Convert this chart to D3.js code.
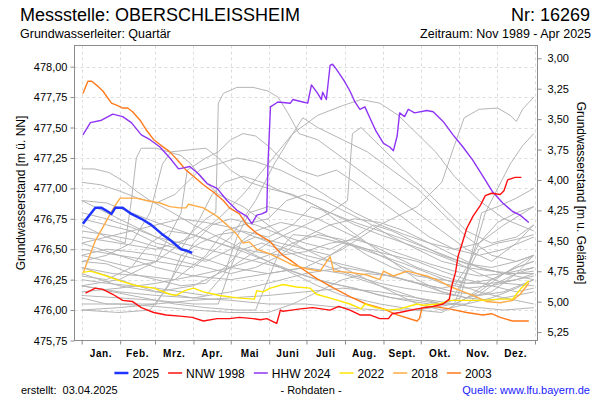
<!DOCTYPE html>
<html><head><meta charset="utf-8">
<script src="https://cdn.jsdelivr.net/npm/d3@7/dist/d3.min.js"></script>
<style>
body{margin:0;background:#fff;}
text{font-family:"Liberation Sans",Arial,sans-serif;}
</style></head>
<body><svg id="c" width="600" height="400"></svg>
<script>
// ---------- DATA ----------
const monthStarts = [0,31,59,90,120,151,181,212,243,273,304,334,365];
const monthLabels = ["Jan.","Feb.","Mrz.","Apr.","Mai","Juni","Juli","Aug.","Sept.","Okt.","Nov.","Dez."];
const leftTicks = [475.75,476.00,476.25,476.50,476.75,477.00,477.25,477.50,477.75,478.00];
const rightTicks = [3.00,3.25,3.50,3.75,4.00,4.25,4.50,4.75,5.00,5.25];
const groundLevel = 481.069;

const s2025 = [[1,476.71],[4,476.75],[11,476.84],[16,476.84],[21,476.81],[24,476.79],[27,476.84],[33,476.84],[40,476.79],[48,476.75],[56,476.70],[64,476.63],[72,476.57],[80,476.50],[84,476.49],[89,476.47]];
const nnw1998 = [[3,476.14],[11,476.18],[17,476.17],[25,476.13],[33,476.08],[41,476.07],[48,476.02],[58,475.98],[68,475.96],[79,475.95],[89,475.94],[98,475.91],[109,475.93],[119,475.93],[127,475.94],[138,475.93],[144,475.92],[149,475.93],[157,475.89],[160,476.00],[162,475.99],[169,476.00],[176,476.01],[186,476.02],[200,476.00],[207,476.03],[216,476.00],[224,475.96],[232,475.96],[240,475.93],[247,475.93],[250,475.97],[256,475.98],[270,476.01],[283,476.03],[291,476.05],[296,476.09],[298,476.20],[301,476.31],[303,476.44],[307,476.57],[310,476.67],[315,476.77],[321,476.86],[325,476.94],[330,476.96],[337,476.95],[340,476.98],[343,477.07],[349,477.09],[354,477.09]];
const hhw2024 = [[1,477.44],[7,477.54],[16,477.56],[25,477.61],[33,477.59],[40,477.54],[48,477.44],[55,477.40],[63,477.34],[71,477.25],[78,477.16],[83,477.17],[87,477.18],[94,477.12],[101,477.04],[109,477.00],[117,476.90],[125,476.82],[133,476.77],[137,476.71],[141,476.78],[145,476.79],[149,476.81],[150,477.20],[152,477.67],[158,477.71],[168,477.70],[170,477.73],[178,477.71],[182,477.70],[185,477.85],[190,477.78],[193,477.73],[194,477.79],[197,477.73],[200,478.01],[202,478.02],[205,477.98],[211,477.89],[216,477.80],[220,477.71],[224,477.65],[228,477.67],[232,477.58],[237,477.47],[243,477.37],[248,477.34],[251,477.31],[254,477.43],[256,477.62],[260,477.59],[263,477.65],[268,477.62],[278,477.64],[283,477.63],[291,477.55],[299,477.44],[307,477.34],[315,477.23],[323,477.10],[331,476.97],[339,476.88],[347,476.81],[353,476.78],[360,476.72]];
const s2022 = [[1,476.31],[7,476.32],[17,476.29],[31,476.24],[44,476.20],[58,476.18],[71,476.13],[76,476.12],[83,476.16],[90,476.18],[98,476.15],[111,476.12],[125,476.10],[139,476.09],[141,476.16],[146,476.15],[152,476.18],[162,476.21],[173,476.19],[184,476.18],[189,476.13],[203,476.09],[216,476.05],[225,476.01],[228,476.05],[237,476.02],[247,476.00],[256,476.01],[270,476.05],[275,476.04],[288,476.05],[296,476.08],[310,476.08],[323,476.08],[337,476.09],[347,476.09],[350,476.13],[354,476.18],[360,476.24]];
const s2018 = [[1,476.30],[5,476.41],[11,476.57],[17,476.68],[23,476.79],[27,476.86],[31,476.92],[44,476.92],[52,476.90],[63,476.88],[71,476.85],[79,476.84],[84,476.84],[86,476.87],[98,476.84],[109,476.77],[117,476.70],[125,476.62],[130,476.55],[135,476.56],[141,476.50],[152,476.46],[162,476.41],[170,476.37],[181,476.34],[192,476.32],[200,476.44],[203,476.32],[216,476.31],[229,476.29],[240,476.25],[243,476.32],[251,476.28],[262,476.32],[270,476.30],[278,476.28],[288,476.24],[295,476.20],[305,476.16],[315,476.12],[326,476.07],[337,476.06],[347,476.08],[353,476.13],[360,476.22]];
const s2003 = [[1,477.78],[5,477.88],[8,477.88],[13,477.84],[17,477.80],[24,477.70],[29,477.68],[33,477.66],[37,477.66],[41,477.63],[47,477.56],[52,477.48],[58,477.40],[63,477.36],[71,477.30],[79,477.21],[84,477.15],[90,477.10],[98,477.03],[106,476.97],[114,476.90],[119,476.84],[127,476.79],[133,476.70],[141,476.63],[152,476.56],[158,476.49],[162,476.45],[168,476.41],[176,476.35],[189,476.26],[203,476.18],[216,476.11],[229,476.05],[243,476.01],[254,475.96],[270,475.91],[272,475.93],[274,476.02],[283,476.03],[296,476.01],[310,475.98],[323,475.96],[330,475.97],[337,475.94],[347,475.91],[360,475.91]];

const grayYears = [
[[0,476.45],[20,476.40],[40,476.35],[60,476.40],[80,476.55],[100,476.75],[108,476.80],[110,477.70],[114,477.78],[125,477.83],[138,477.83],[150,477.80],[158,477.75],[166,477.62],[175,477.45],[190,477.40],[210,477.25],[230,477.10],[250,476.95],[270,476.80],[290,476.65],[310,476.50],[330,476.40],[350,476.55],[364,476.70]],
[[0,476.60],[30,476.55],[60,476.50],[90,476.60],[110,476.75],[130,476.95],[150,477.20],[170,477.45],[190,477.60],[210,477.68],[225,477.73],[240,477.70],[255,477.60],[270,477.45],[285,477.30],[300,477.10],[320,476.90],[340,476.75],[364,476.65]],
[[0,476.90],[30,476.75],[60,476.60],[90,476.45],[120,476.35],[150,476.30],[180,476.35],[210,476.50],[240,476.70],[270,476.85],[290,477.05],[300,477.35],[308,477.58],[320,477.65],[335,477.66],[345,477.60],[350,477.55],[355,477.65],[364,477.75]],
[[0,477.16],[10,477.16],[22,477.13],[35,477.05],[45,476.97],[55,476.90],[70,476.82],[90,476.70],[110,476.60],[130,476.50],[150,476.40],[170,476.30],[190,476.20],[210,476.12],[240,476.05],[270,476.00],[290,475.98],[310,476.10],[330,476.25],[350,476.35],[364,476.40]],
[[0,477.05],[15,477.03],[30,476.98],[45,476.92],[60,476.88],[75,476.95],[85,477.05],[95,477.15],[110,477.20],[125,477.25],[140,477.22],[160,477.15],[180,477.05],[200,476.92],[220,476.80],[240,476.70],[260,476.62],[280,476.55],[300,476.50],[320,476.55],[340,476.70],[364,476.85]],
[[0,476.70],[20,476.60],[35,476.55],[40,476.90],[44,477.25],[48,477.33],[60,477.33],[70,477.30],[80,477.27],[88,477.20],[95,477.10],[110,476.95],[130,476.85],[150,476.70],[170,476.55],[190,476.45],[210,476.35],[230,476.25],[250,476.15],[270,476.05],[290,476.00],[310,476.05],[330,476.20],[350,476.30],[364,476.35]],
[[0,476.40],[20,476.45],[40,476.55],[55,476.80],[65,477.20],[72,477.30],[90,477.32],[100,477.33],[110,477.25],[120,477.15],[135,477.05],[150,477.00],[170,476.95],[190,476.85],[210,476.70],[230,476.55],[250,476.40],[270,476.25],[290,476.15],[310,476.10],[330,476.15],[350,476.30],[364,476.45]],
[[0,476.20],[30,476.25],[60,476.40],[80,476.80],[85,477.15],[100,477.25],[110,477.30],[120,477.40],[130,477.45],[140,477.43],[150,477.35],[160,477.25],[175,477.15],[190,477.10],[205,477.15],[220,477.05],[240,476.90],[260,476.75],[280,476.60],[300,476.50],[320,476.45],[340,476.50],[364,476.60]],
[[0,476.50],[30,476.45],[60,476.40],[90,476.35],[120,476.60],[140,476.90],[155,477.20],[170,477.45],[178,477.58],[190,477.50],[210,477.40],[230,477.30],[250,477.15],[270,477.00],[290,476.80],[310,476.60],[330,476.45],[350,476.40],[364,476.45]],
[[0,476.30],[30,476.20],[60,476.15],[90,476.20],[120,476.35],[150,476.55],[180,476.70],[200,476.80],[214,476.90],[218,477.45],[225,477.50],[240,477.35],[255,477.20],[270,477.05],[290,476.85],[310,476.65],[330,476.55],[350,476.60],[364,476.70]],
[[0,476.35],[30,476.25],[60,476.15],[90,476.10],[120,476.08],[150,476.05],[180,476.05],[210,476.02],[240,476.00],[270,476.00],[300,476.05],[315,476.45],[325,476.80],[335,477.00],[345,477.20],[355,477.35],[364,477.45]],
[[0,476.55],[30,476.45],[60,476.35],[90,476.28],[120,476.25],[150,476.30],[180,476.35],[210,476.30],[240,476.20],[270,476.10],[290,476.05],[305,476.10],[315,476.50],[322,476.80],[335,476.85],[350,476.92],[364,477.00]],
[[0,476.10],[20,476.05],[40,476.05],[60,476.05],[75,476.30],[90,476.55],[105,476.70],[120,476.75],[140,476.70],[160,476.62],[180,476.55],[200,476.50],[220,476.60],[235,476.70],[250,476.65],[270,476.55],[290,476.45],[310,476.38],[330,476.35],[350,476.40],[364,476.45]],
[[0,476.00],[30,475.98],[55,476.00],[70,476.20],[80,476.45],[95,476.55],[110,476.62],[130,476.65],[150,476.60],[170,476.70],[185,476.85],[200,476.80],[220,476.70],[240,476.62],[260,476.55],[280,476.48],[300,476.40],[320,476.30],[340,476.22],[364,476.20]],
[[0,476.25],[20,476.22],[40,476.20],[60,476.18],[80,476.15],[100,476.12],[115,476.30],[125,476.60],[135,476.80],[150,476.85],[170,476.80],[190,476.75],[210,476.65],[230,476.55],[250,476.45],[270,476.35],[290,476.28],[310,476.22],[330,476.25],[350,476.35],[364,476.40]],
[[0,476.20],[25,476.15],[50,476.10],[75,476.05],[100,476.02],[125,476.00],[140,476.00],[150,476.25],[160,476.50],[170,476.62],[190,476.60],[210,476.55],[230,476.50],[250,476.45],[270,476.40],[290,476.32],[310,476.25],[330,476.20],[350,476.15],[364,476.18]],
[[0,476.45],[20,476.50],[40,476.48],[60,476.45],[80,476.40],[100,476.35],[120,476.30],[140,476.35],[160,476.45],[180,476.60],[200,476.70],[220,476.75],[240,476.72],[260,476.65],[280,476.55],[300,476.45],[320,476.35],[340,476.30],[364,476.30]],
[[0,476.65],[20,476.62],[40,476.58],[60,476.52],[80,476.45],[100,476.40],[120,476.50],[140,476.65],[160,476.72],[180,476.68],[200,476.60],[220,476.52],[240,476.45],[260,476.38],[280,476.30],[300,476.22],[320,476.15],[340,476.10],[364,476.05]],
[[0,476.80],[20,476.75],[40,476.68],[60,476.60],[80,476.55],[100,476.50],[120,476.45],[140,476.40],[160,476.35],[180,476.28],[200,476.22],[220,476.18],[240,476.12],[260,476.08],[280,476.05],[300,476.05],[320,476.15],[340,476.30],[364,476.45]],
[[0,476.12],[30,476.10],[60,476.08],[90,476.05],[110,476.05],[120,476.35],[128,476.55],[140,476.60],[160,476.55],[180,476.50],[200,476.45],[215,476.55],[230,476.50],[250,476.40],[270,476.30],[290,476.22],[310,476.18],[330,476.20],[350,476.25],[364,476.28]],
[[0,476.35],[25,476.30],[50,476.28],[75,476.25],[100,476.45],[115,476.65],[130,476.70],[150,476.75],[165,476.90],[180,476.95],[195,476.90],[210,476.82],[230,476.72],[250,476.60],[270,476.50],[290,476.40],[310,476.35],[330,476.32],[350,476.30],[364,476.32]],
[[0,476.55],[20,476.60],[40,476.65],[60,476.70],[80,476.75],[100,476.72],[120,476.68],[140,476.60],[160,476.52],[180,476.45],[200,476.40],[220,476.35],[240,476.30],[260,476.25],[280,476.20],[300,476.15],[320,476.12],[340,476.15],[364,476.25]],
[[0,476.05],[30,476.05],[60,476.03],[90,476.00],[120,475.98],[150,475.98],[170,476.05],[190,476.15],[210,476.25],[230,476.30],[250,476.28],[270,476.22],[290,476.15],[310,476.10],[330,476.08],[350,476.12],[364,476.15]],
[[0,476.15],[30,476.18],[60,476.22],[90,476.28],[120,476.35],[150,476.45],[170,476.55],[190,476.62],[210,476.58],[230,476.45],[250,476.35],[270,476.28],[290,476.25],[310,476.22],[330,476.22],[350,476.25],[364,476.30]],
[[0,476.40],[20,476.38],[40,476.30],[60,476.25],[80,476.20],[100,476.22],[115,476.35],[130,476.50],[145,476.55],[160,476.50],[180,476.42],[200,476.35],[220,476.28],[240,476.22],[260,476.18],[280,476.15],[300,476.12],[310,476.30],[320,476.50],[335,476.55],[350,476.58],[364,476.62]],
[[0,476.75],[20,476.70],[40,476.65],[60,476.55],[80,476.50],[95,476.75],[105,476.95],[115,477.05],[130,477.10],[145,477.05],[160,476.98],[180,476.90],[200,476.80],[220,476.72],[240,476.65],[260,476.58],[280,476.50],[300,476.42],[320,476.35],[340,476.30],[364,476.25]],
[[0,476.90],[20,476.88],[40,476.80],[60,476.72],[80,476.65],[100,476.58],[120,476.52],[140,476.48],[160,476.45],[180,476.48],[200,476.55],[220,476.58],[240,476.52],[260,476.45],[280,476.38],[300,476.32],[320,476.28],[340,476.30],[364,476.35]],
[[0,476.20],[30,476.15],[60,476.12],[90,476.10],[120,476.15],[150,476.22],[180,476.30],[210,476.35],[240,476.30],[270,476.22],[290,476.18],[300,476.20],[310,476.35],[320,476.55],[335,476.72],[350,476.80],[364,476.85]],
[[0,476.00],[30,476.02],[60,476.05],[90,476.08],[120,476.10],[150,476.12],[180,476.15],[210,476.18],[240,476.15],[270,476.10],[300,476.05],[320,476.02],[340,476.00],[364,476.02]],
[[0,476.28],[20,476.25],[40,476.35],[55,476.55],[70,476.65],[90,476.62],[110,476.55],[130,476.48],[150,476.40],[170,476.32],[190,476.25],[210,476.20],[230,476.15],[250,476.10],[270,476.08],[290,476.05],[310,476.05],[330,476.10],[350,476.18],[364,476.25]]
];

const seriesNames = ["2025","NNW 1998","HHW 2024","2022","2018","2003"];
const seriesColors = ["#1f35ff","#ff0f0f","#8f34f5","#ffe600","#ffab45","#ff7a1a"];

// ---------- DRAW ----------
const svg = d3.select("#c");
const L = 74.5, R = 537.5, T = 45.5, B = 340.5;
const x = d3.scaleLinear().domain([0,365]).range([81.7,535]);
const yL = d3.scaleLinear().domain([475.75,478.174]).range([B,T]);
const yR = d3.scaleLinear().domain([groundLevel-478.174, groundLevel-475.75]).range([T,B]);
const fmt = d => d.toFixed(2).replace(".",",");

// grid
const grid = svg.append("g").attr("stroke","#dcdcdc").attr("stroke-dasharray","3,3").attr("stroke-width",1);
grid.selectAll("line.h").data(leftTicks.slice(1)).join("line")
  .attr("x1",L).attr("x2",R).attr("y1",d=>Math.round(yL(d))+0.5).attr("y2",d=>Math.round(yL(d))+0.5);
grid.selectAll("line.v").data(monthStarts).join("line")
  .attr("y1",T).attr("y2",B).attr("x1",d=>Math.round(x(d))+0.5).attr("x2",d=>Math.round(x(d))+0.5);

// lines
const line = d3.line().x(d=>x(d[0])).y(d=>yL(d[1]));
const clip = svg.append("clipPath").attr("id","cp").append("rect").attr("x",L).attr("y",T).attr("width",R-L).attr("height",B-T);
const plot = svg.append("g").attr("clip-path","url(#cp)");
plot.selectAll("path.g").data(grayYears).join("path")
  .attr("fill","none").attr("stroke","#b5b5b5").attr("stroke-width",1).attr("d",line);

const hi = [s2025,nnw1998,hhw2024,s2022,s2018,s2003];
const order = [5,4,3,2,1,0];
order.forEach(i=>{
  plot.append("path").datum(hi[i]).attr("fill","none").attr("stroke",seriesColors[i])
    .attr("stroke-width", i===0?2.5:1.4).attr("stroke-linejoin","round").attr("d",line);
});

// frame
svg.append("rect").attr("x",L).attr("y",T).attr("width",R-L).attr("height",B-T)
  .attr("fill","none").attr("stroke","#8c8c8c").attr("stroke-width",1);

// axes
const axL = svg.append("g").attr("transform",`translate(${L},0)`)
  .call(d3.axisLeft(yL).tickValues(leftTicks).tickFormat(fmt).tickSize(4).tickPadding(3));
const axR = svg.append("g").attr("transform",`translate(${R},0)`)
  .call(d3.axisRight(yR).tickValues(rightTicks).tickFormat(fmt).tickSize(4).tickPadding(6));
const axB = svg.append("g").attr("transform",`translate(0,${B})`)
  .call(d3.axisBottom(x).tickValues(monthStarts).tickFormat("").tickSize(4));
[axL,axR,axB].forEach(a=>{
  a.select(".domain").remove();
  a.selectAll(".tick line").attr("stroke","#8c8c8c");
  a.selectAll("text").attr("font-size",11).attr("fill","#000").attr("font-family","Liberation Sans, Arial, sans-serif");
});
svg.append("g").selectAll("text").data(monthLabels).join("text")
  .attr("x",(d,i)=>x((monthStarts[i]+monthStarts[i+1])/2)).attr("y",357)
  .attr("text-anchor","middle").attr("font-size",10).attr("font-weight","bold")
  .attr("letter-spacing","0.6px").text(d=>d);

// axis titles
svg.append("text").attr("transform",`translate(25,${(T+B)/2}) rotate(-90)`)
  .attr("text-anchor","middle").attr("font-size",12).text("Grundwasserstand [m ü. NN]");
svg.append("text").attr("transform",`translate(577,${(T+B)/2}) rotate(90)`)
  .attr("text-anchor","middle").attr("font-size",12).text("Grundwasserstand [m u. Gelände]");

// titles
svg.append("text").attr("x",20).attr("y",21).attr("font-size",18).text("Messstelle: OBERSCHLEISSHEIM");
svg.append("text").attr("x",590).attr("y",21).attr("font-size",18).attr("text-anchor","end").text("Nr: 16269");
svg.append("text").attr("x",20).attr("y",38).attr("font-size",12.5).text("Grundwasserleiter: Quartär");
svg.append("text").attr("x",591).attr("y",38).attr("font-size",12.5).attr("text-anchor","end").text("Zeitraum: Nov 1989 - Apr 2025");

// legend
const lg = svg.append("g");
let cx = 0;
seriesNames.forEach((n,i)=>{
  const g = lg.append("g");
  g.append("line").attr("x1",0).attr("x2",14).attr("y1",0).attr("y2",0).attr("stroke",seriesColors[i]).attr("stroke-width",i===0?2.5:1.5);
  const t = g.append("text").attr("x",18).attr("y",4.5).attr("font-size",12).text(n);
  const w = 18 + t.node().getComputedTextLength();
  g.attr("transform",`translate(${cx},373)`);
  cx += w + 9;
});
const total = cx - 9;
lg.attr("transform",`translate(${303 - total/2},0)`);

// footer
svg.append("text").attr("x",21).attr("y",394).attr("font-size",11).style("white-space","pre").text("erstellt:  03.04.2025");
svg.append("text").attr("x",311).attr("y",394).attr("font-size",11).attr("text-anchor","middle").text("- Rohdaten -");
svg.append("text").attr("x",590).attr("y",394).attr("font-size",11).attr("text-anchor","end").attr("fill","#1a1aff").text("Quelle: www.lfu.bayern.de");
</script></body></html>
